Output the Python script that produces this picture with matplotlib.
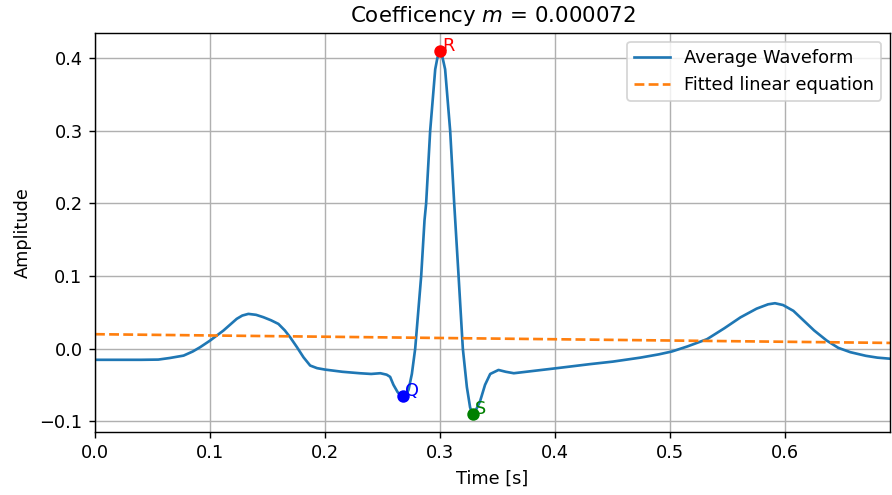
import numpy as np
import matplotlib
matplotlib.use("Agg")
import matplotlib.pyplot as plt

# averaged beat
time = [0.0, 0.02, 0.04, 0.055, 0.065, 0.077, 0.085, 0.0913, 0.1, 0.1116,
        0.1232, 0.128, 0.1333, 0.14, 0.1464, 0.153, 0.1594, 0.165, 0.1696, 0.1755,
        0.1812, 0.187, 0.193, 0.2, 0.215, 0.23, 0.24, 0.248, 0.2535, 0.2565,
        0.2594, 0.263, 0.2655, 0.268, 0.2705, 0.2725, 0.2754, 0.2783, 0.2835, 0.2864,
        0.2878, 0.2913, 0.2957, 0.2975, 0.299, 0.300, 0.301, 0.3025, 0.3043, 0.3087,
        0.3122, 0.316, 0.3197, 0.3232, 0.326, 0.3275, 0.3284, 0.3295, 0.331, 0.3348,
        0.339, 0.3435, 0.3507, 0.357, 0.364, 0.38, 0.4015, 0.43, 0.45, 0.474,
        0.49, 0.5015, 0.515, 0.532, 0.547, 0.561, 0.575, 0.585, 0.591, 0.598,
        0.607, 0.615, 0.625, 0.636, 0.646, 0.6565, 0.67, 0.68, 0.691]
amplitude = [-0.0155, -0.0155, -0.0155, -0.0152, -0.013, -0.0097, -0.004, 0.0018, 0.011, 0.0248,
             0.041, 0.0455, 0.0478, 0.0465, 0.0432, 0.039, 0.034, 0.025, 0.0156, 0.002,
             -0.012, -0.0234, -0.027, -0.029, -0.032, -0.034, -0.035, -0.034, -0.036, -0.039,
             -0.050, -0.060, -0.064, -0.066, -0.064, -0.057, -0.035, 0.0, 0.1, 0.177,
             0.2, 0.3, 0.385, 0.400, 0.408, 0.410, 0.408, 0.398, 0.385, 0.3,
             0.2, 0.1, 0.0, -0.053, -0.081, -0.088, -0.090, -0.089, -0.085, -0.072,
             -0.050, -0.035, -0.0295, -0.032, -0.034, -0.031, -0.027, -0.0215, -0.018, -0.0125,
             -0.008, -0.004, 0.003, 0.013, 0.028, 0.043, 0.055, 0.061, 0.0625, 0.060,
             0.052, 0.040, 0.025, 0.011, 0.001, -0.005, -0.010, -0.0125, -0.014]

# fitted line
fit_intercept = 0.0198
fit_slope = -0.0174

# Q, R, S points
qrs_names = ['Q', 'R', 'S']
qrs_time = [0.268, 0.300, 0.3284]
qrs_amp = [-0.066, 0.410, -0.090]
qrs_colors = ['blue', 'red', 'green']

t = np.array(time)
fig, ax = plt.subplots(figsize=(892 / 128, 495 / 128), dpi=128)
ax.plot(t, amplitude, label='Average Waveform')
ax.plot(t, fit_intercept + fit_slope * t, '--', label='Fitted linear equation')

for name, x, y, c in zip(qrs_names, qrs_time, qrs_amp, qrs_colors):
    ax.plot(x, y, 'o', color=c)
    ax.annotate(name, (x, y), xytext=(1, 0), textcoords='offset points',
                color=c, fontsize=10)

ax.set_xlim(0, t[-1])
ax.set_title('Coefficency $m$ = 0.000072')
ax.set_xlabel('Time [s]')
ax.set_ylabel('Amplitude')
ax.grid(True)
ax.legend(loc='upper right')

plt.subplots_adjust(left=0.1065, right=0.9978, top=0.9333, bottom=0.1273)
plt.savefig('out.png')
